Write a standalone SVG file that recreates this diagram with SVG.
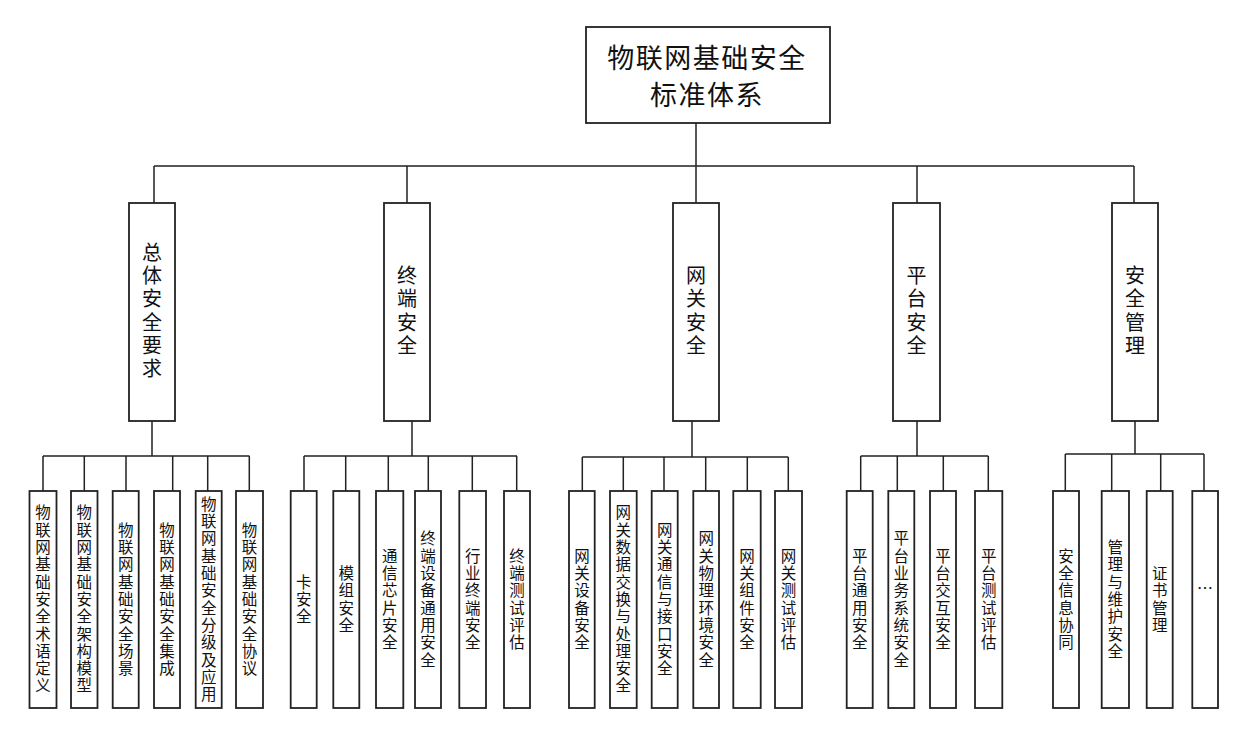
<svg xmlns="http://www.w3.org/2000/svg" width="1239" height="735" viewBox="0 0 1239 735">
<style>
.bx{fill:#fff;stroke:#222;stroke-width:1.8}
.ln{fill:none;stroke:#222;stroke-width:1.5}
text{font-family:"Noto Sans CJK SC","Noto Sans CJK TC",sans-serif;fill:#111;text-anchor:middle}
.t0{font-size:27px;dominant-baseline:central;letter-spacing:1.5px}
.t1{font-size:20px;writing-mode:vertical-rl;letter-spacing:3.3px}
.t2{font-size:15.5px;writing-mode:vertical-rl;letter-spacing:1.8px}
</style>
<rect width="1239" height="735" fill="#fff"/>
<g id="connectors">
<path class="ln" d="M696,123V203M154,166H1134M154,166V203M407,166V203M917,166V203M1134,166V203"/>
<path class="ln" d="M152,421V456M43,456H249.5M43,456V491M84.3,456V491M126,456V491M172.7,456V491M207.7,456V491M249.3,456V491"/>
<path class="ln" d="M412,421V456M304,456H517M304,456V491M345.7,456V491M388.3,456V491M428.3,456V491M472.3,456V491M516.7,456V491"/>
<path class="ln" d="M692,421V457M582.3,457H788.3M582.3,457V491M623.3,457V491M664,457V491M705.7,457V491M747.3,457V491M788.3,457V491"/>
<path class="ln" d="M917,421V456M860.7,456H988.3M860.7,456V491M897.3,456V491M943.3,456V491M988.3,456V491"/>
<path class="ln" d="M1135,421V454M1065.3,454H1204M1065.3,454V491M1111.7,454V491M1160.7,454V491M1204,454V491"/>
</g>
<g id="root"><rect class="bx" x="586" y="27" width="244" height="96"/><text class="t0" x="707" y="56">物联网基础安全</text><text class="t0" x="707" y="93">标准体系</text></g>
<g id="n1"><rect class="bx" x="129" y="203" width="46" height="218"/><text class="t1" x="152" y="312">总体安全要求</text></g>
<g id="n2"><rect class="bx" x="384" y="203" width="46" height="218"/><text class="t1" x="407" y="312">终端安全</text></g>
<g id="n3"><rect class="bx" x="673" y="203" width="46" height="218"/><text class="t1" x="696" y="312">网关安全</text></g>
<g id="n4"><rect class="bx" x="893" y="203" width="47" height="218"/><text class="t1" x="916.5" y="312">平台安全</text></g>
<g id="n5"><rect class="bx" x="1112" y="203" width="46" height="218"/><text class="t1" x="1135" y="312">安全管理</text></g>
<g id="l1a"><rect class="bx" x="29.5" y="491" width="27" height="217"/><text class="t2" x="43" y="600">物联网基础安全术语定义</text></g>
<g id="l1b"><rect class="bx" x="71" y="491" width="26.5" height="217"/><text class="t2" x="84.3" y="600">物联网基础安全架构模型</text></g>
<g id="l1c"><rect class="bx" x="112.7" y="491" width="26" height="217"/><text class="t2" x="125.7" y="600">物联网基础安全场景</text></g>
<g id="l1d"><rect class="bx" x="154" y="491" width="26" height="217"/><text class="t2" x="167" y="600">物联网基础安全集成</text></g>
<g id="l1e"><rect class="bx" x="195.7" y="491" width="26" height="217"/><text class="t2" x="208.7" y="600">物联网基础安全分级及应用</text></g>
<g id="l1f"><rect class="bx" x="236" y="491" width="27" height="217"/><text class="t2" x="249.5" y="600">物联网基础安全协议</text></g>
<g id="l2a"><rect class="bx" x="290.7" y="491" width="26" height="217"/><text class="t2" x="303.7" y="600">卡安全</text></g>
<g id="l2b"><rect class="bx" x="333.3" y="491" width="26" height="217"/><text class="t2" x="346.3" y="600">模组安全</text></g>
<g id="l2c"><rect class="bx" x="376" y="491" width="27.3" height="217"/><text class="t2" x="389.7" y="600">通信芯片安全</text></g>
<g id="l2d"><rect class="bx" x="415" y="491" width="26" height="217"/><text class="t2" x="428" y="600">终端设备通用安全</text></g>
<g id="l2e"><rect class="bx" x="459.3" y="491" width="26.7" height="217"/><text class="t2" x="472.7" y="600">行业终端安全</text></g>
<g id="l2f"><rect class="bx" x="504" y="491" width="26" height="217"/><text class="t2" x="517" y="600">终端测试评估</text></g>
<g id="l3a"><rect class="bx" x="569" y="491" width="25.7" height="217"/><text class="t2" x="581.9" y="600">网关设备安全</text></g>
<g id="l3b"><rect class="bx" x="610" y="491" width="26.7" height="217"/><text class="t2" x="623.3" y="600">网关数据交换与处理安全</text></g>
<g id="l3c"><rect class="bx" x="651.7" y="491" width="26" height="217"/><text class="t2" x="664.7" y="600">网关通信与接口安全</text></g>
<g id="l3d"><rect class="bx" x="693.3" y="491" width="25.7" height="217"/><text class="t2" x="706.2" y="600">网关物理环境安全</text></g>
<g id="l3e"><rect class="bx" x="733.3" y="491" width="27.4" height="217"/><text class="t2" x="747" y="600">网关组件安全</text></g>
<g id="l3f"><rect class="bx" x="775" y="491" width="27" height="217"/><text class="t2" x="788.5" y="600">网关测试评估</text></g>
<g id="l4a"><rect class="bx" x="846.7" y="491" width="26" height="217"/><text class="t2" x="859.7" y="600">平台通用安全</text></g>
<g id="l4b"><rect class="bx" x="888.3" y="491" width="26" height="217"/><text class="t2" x="901.3" y="600">平台业务系统安全</text></g>
<g id="l4c"><rect class="bx" x="930" y="491" width="26" height="217"/><text class="t2" x="943" y="600">平台交互安全</text></g>
<g id="l4d"><rect class="bx" x="975" y="491" width="27.3" height="217"/><text class="t2" x="988.7" y="600">平台测试评估</text></g>
<g id="l5a"><rect class="bx" x="1053" y="491" width="26" height="217"/><text class="t2" x="1066" y="600">安全信息协同</text></g>
<g id="l5b"><rect class="bx" x="1101.7" y="491" width="27.3" height="217"/><text class="t2" x="1115.3" y="600">管理与维护安全</text></g>
<g id="l5c"><rect class="bx" x="1146.7" y="491" width="26" height="217"/><text class="t2" x="1159.7" y="600">证书管理</text></g>
<g id="l5d"><rect class="bx" x="1192.3" y="491" width="25.7" height="217"/><text x="1205" y="587" style="font-size:16px;dominant-baseline:central">…</text></g>
</svg>
